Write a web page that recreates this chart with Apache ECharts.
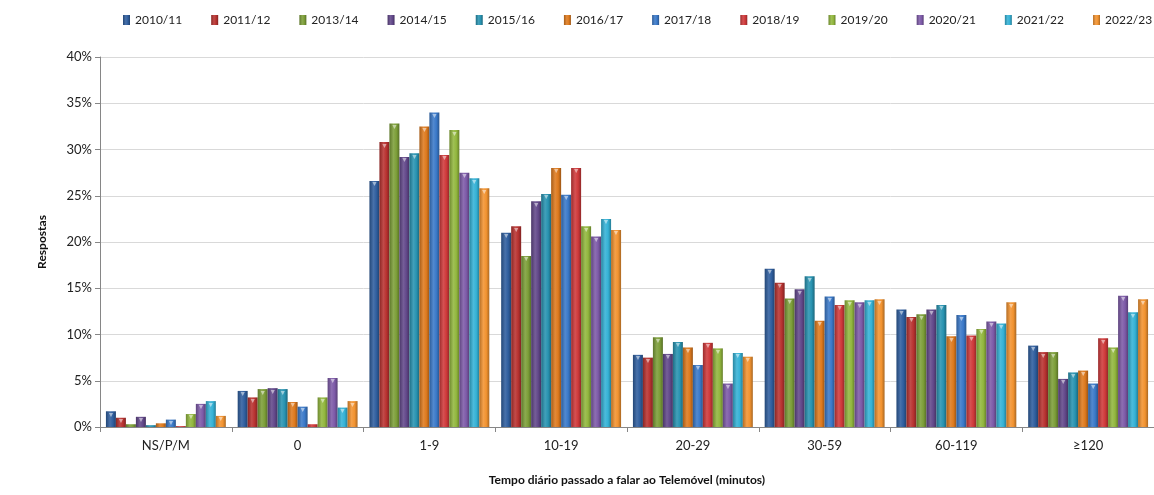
<!DOCTYPE html>
<html><head><meta charset="utf-8">
<script src="https://cdn.jsdelivr.net/npm/echarts@6/dist/echarts.min.js"></script>
<style>html,body{margin:0;padding:0;background:#fff}#c{width:1154px;height:495px}</style>
</head><body><div id="c"></div>
<script>
const categories = ['NS/P/M','0','1-9','10-19','20-29','30-59','60-119','\u2265120'];
const seriesNames = ['2010/11','2011/12','2013/14','2014/15','2015/16','2016/17','2017/18','2018/19','2019/20','2020/21','2021/22','2022/23'];
const yTicks = [0,5,10,15,20,25,30,35,40];
const s2010_11 = [1.7, 3.9, 26.6, 21.0, 7.8, 17.1, 12.7, 8.8];
const s2011_12 = [1.0, 3.2, 30.8, 21.7, 7.5, 15.6, 11.9, 8.1];
const s2013_14 = [0.3, 4.1, 32.8, 18.5, 9.7, 13.9, 12.2, 8.1];
const s2014_15 = [1.1, 4.2, 29.2, 24.4, 7.9, 14.9, 12.7, 5.2];
const s2015_16 = [0.2, 4.1, 29.6, 25.2, 9.2, 16.3, 13.2, 5.9];
const s2016_17 = [0.4, 2.7, 32.5, 28.0, 8.6, 11.5, 9.8, 6.1];
const s2017_18 = [0.8, 2.2, 34.0, 25.1, 6.7, 14.1, 12.1, 4.7];
const s2018_19 = [0.1, 0.3, 29.4, 28.0, 9.1, 13.2, 9.9, 9.6];
const s2019_20 = [1.4, 3.2, 32.1, 21.7, 8.5, 13.7, 10.6, 8.6];
const s2020_21 = [2.5, 5.3, 27.5, 20.6, 4.7, 13.5, 11.4, 14.2];
const s2021_22 = [2.8, 2.1, 26.9, 22.5, 8.0, 13.7, 11.2, 12.4];
const s2022_23 = [1.2, 2.8, 25.8, 21.3, 7.6, 13.8, 13.5, 13.8];
const seriesValues = [s2010_11,s2011_12,s2013_14,s2014_15,s2015_16,s2016_17,s2017_18,s2018_19,s2019_20,s2020_21,s2021_22,s2022_23];
const colors = ['#2F5E9E','#B83230','#7C9E38','#62488A','#2893B1','#DE7A1E','#3A79C9','#CF393A','#92B73E','#7D5AA8','#35B2D6','#F29330'];

function shade(hex, f){
  const n=parseInt(hex.slice(1),16);let r=n>>16,g=(n>>8)&255,b=n&255;
  const t=f<0?0:255,p=Math.abs(f);
  r=Math.round((t-r)*p+r);g=Math.round((t-g)*p+g);b=Math.round((t-b)*p+b);
  return 'rgb('+r+','+g+','+b+')';
}
function grad(c){
  return new echarts.graphic.LinearGradient(0,0,1,0,[
    {offset:0,color:shade(c,-0.25)},
    {offset:0.4,color:shade(c,0.12)},
    {offset:0.7,color:c},
    {offset:1,color:shade(c,-0.3)}
  ]);
}
const FONT='Lato';
const chart=echarts.init(document.getElementById('c'),null,{renderer:'canvas'});
chart.setOption({
  animation:false,
  backgroundColor:'#fff',
  legend:{
    top:9,left:118,width:1100,itemWidth:7,itemHeight:10,itemGap:29,
    icon:'rect',
    textStyle:{fontFamily:FONT,fontSize:12,color:'#222'},
    data:seriesNames
  },
  grid:{left:100,right:0,top:57,bottom:68,containLabel:false},
  xAxis:{
    type:'category',data:categories,
    axisLine:{lineStyle:{color:'#868686'}},
    axisTick:{show:true,length:5,lineStyle:{color:'#868686'}},
    axisLabel:{fontFamily:FONT,fontSize:13,color:'#222',margin:12},
    name:'Tempo diário passado a falar ao Telemóvel (minutos)',
    nameLocation:'middle',nameGap:47,
    nameTextStyle:{fontFamily:FONT,fontSize:12,fontWeight:'bold',color:'#111'}
  },
  yAxis:{
    type:'value',min:yTicks[0],max:yTicks[yTicks.length-1],interval:5,
    axisLine:{show:true,lineStyle:{color:'#868686'}},
    axisTick:{show:true,length:5,lineStyle:{color:'#868686'}},
    splitLine:{lineStyle:{color:'#d9d9d9'}},
    axisLabel:{fontFamily:FONT,fontSize:13,color:'#222',margin:8,formatter:v=>v+'%'},
    name:'Respostas',nameLocation:'middle',nameGap:52,nameRotate:90,
    nameTextStyle:{fontFamily:FONT,fontSize:12,fontWeight:'bold',color:'#111'}
  },
  series:seriesNames.map((n,i)=>({
    name:n,type:'bar',data:seriesValues[i],
    barGap:'0%',barCategoryGap:'9%',
    itemStyle:{color:grad(colors[i])},
    label:{show:true,position:'insideTop',distance:0,formatter:p=>p.value>=0.5?'\u25BC':'',
      fontSize:7,color:shade(colors[i],0.55)}
  })),
  color:colors
});
</script></body></html>
